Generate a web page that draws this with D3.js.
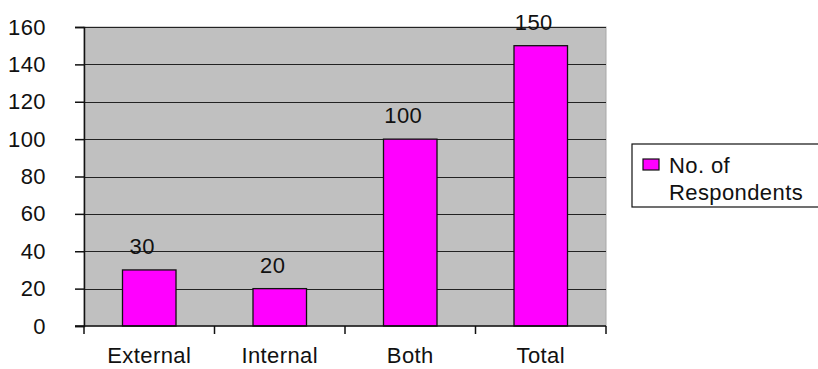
<!DOCTYPE html>
<html>
<head>
<meta charset="utf-8">
<script src="https://cdn.jsdelivr.net/npm/d3@7"></script>
<style>
  body { margin: 0; background: #fff; }
  svg text { font-family: "Liberation Sans", Arial, sans-serif; fill: #111; letter-spacing: 0.4px; }
</style>
</head>
<body>
<div class="chart"></div>
<script>
// data
var categories = ["External", "Internal", "Both", "Total"];
var respondents = [30, 20, 100, 150];
var yTicks = [0, 20, 40, 60, 80, 100, 120, 140, 160];
var seriesName = ["No. of", "Respondents"];

var width = 818, height = 369;
var margin = {top: 27, left: 84, right: 212, bottom: 43};
var fontSize = "22px";

var svg = d3.select(".chart")
    .append("svg")
    .attr("width", width)
    .attr("height", height);

var plotW = width - margin.left - margin.right;
var plotH = height - margin.top - margin.bottom;

var xScale = d3.scaleBand()
    .domain(categories)
    .range([margin.left, margin.left + plotW]);

var yScale = d3.scaleLinear()
    .domain([0, 160])
    .range([margin.top + plotH, margin.top]);

// gray plot area
svg.append("rect")
    .attr("x", margin.left)
    .attr("y", margin.top)
    .attr("width", plotW)
    .attr("height", plotH)
    .style("fill", "#c0c0c0")
    .style("stroke", "#a8a8a8")
    .style("stroke-width", 1);

// horizontal grid lines
svg.append("g")
    .selectAll("line")
    .data(yTicks.slice(1))
    .enter()
    .append("line")
    .attr("x1", margin.left)
    .attr("x2", margin.left + plotW)
    .attr("y1", function(d) { return Math.round(yScale(d)) + 0.5; })
    .attr("y2", function(d) { return Math.round(yScale(d)) + 0.5; })
    .style("stroke", "#222")
    .style("stroke-width", 1.2);

// bars
var barW = xScale.bandwidth() * 0.41;
svg.append("g")
    .selectAll("rect")
    .data(respondents)
    .enter()
    .append("rect")
    .attr("x", function(d, i) { return xScale(categories[i]) + xScale.bandwidth() / 2 - barW / 2; })
    .attr("y", function(d) { return yScale(d); })
    .attr("width", barW)
    .attr("height", function(d) { return yScale(0) - yScale(d); })
    .style("fill", "#ff00ff")
    .style("stroke", "#111")
    .style("stroke-width", 1.3);

// value labels
svg.append("g")
    .selectAll("text")
    .data(respondents)
    .enter()
    .append("text")
    .attr("x", function(d, i) { return xScale(categories[i]) + xScale.bandwidth() / 2 - 7; })
    .attr("y", function(d) { return yScale(d) - 16; })
    .attr("text-anchor", "middle")
    .style("font-size", fontSize)
    .text(function(d) { return d; });

// y axis
var yAxis = svg.append("g")
    .attr("transform", "translate(" + margin.left + ",0)")
    .call(d3.axisLeft(yScale).tickValues(yTicks).tickSize(9).tickPadding(29));
yAxis.select(".domain").style("stroke", "#111").style("stroke-width", 1.5);
yAxis.selectAll(".tick line").style("stroke", "#111").style("stroke-width", 1.5);
yAxis.selectAll(".tick text")
    .style("font-size", fontSize)
    .style("font-family", "'Liberation Sans', Arial, sans-serif")
    .style("fill", "#111");

// x axis: ticks sit on the category boundaries
var xAxis = svg.append("g")
    .attr("transform", "translate(0," + (margin.top + plotH) + ")");
xAxis.append("line")
    .attr("x1", margin.left - 9)
    .attr("x2", margin.left + plotW)
    .style("stroke", "#111")
    .style("stroke-width", 1.5);
var bounds = categories.map(function(c) { return xScale(c); }).concat([margin.left + plotW]);
xAxis.selectAll(".bound")
    .data(bounds)
    .enter()
    .append("line")
    .attr("class", "bound")
    .attr("x1", function(d) { return d; })
    .attr("x2", function(d) { return d; })
    .attr("y1", 0)
    .attr("y2", 8)
    .style("stroke", "#111")
    .style("stroke-width", 1.5);
xAxis.selectAll(".cat")
    .data(categories)
    .enter()
    .append("text")
    .attr("class", "cat")
    .attr("x", function(d) { return xScale(d) + xScale.bandwidth() / 2; })
    .attr("y", 37)
    .attr("text-anchor", "middle")
    .style("font-size", fontSize)
    .text(function(d) { return d; });

// legend
var legend = svg.append("g");
legend.append("rect")
    .attr("x", 632)
    .attr("y", 144)
    .attr("width", 200)
    .attr("height", 63)
    .style("fill", "#fff")
    .style("stroke", "#111")
    .style("stroke-width", 1.2);
legend.append("rect")
    .attr("x", 643)
    .attr("y", 159)
    .attr("width", 16)
    .attr("height", 11)
    .style("fill", "#ff00ff")
    .style("stroke", "#111")
    .style("stroke-width", 1.2);
legend.selectAll(".lg")
    .data(seriesName)
    .enter()
    .append("text")
    .attr("class", "lg")
    .attr("x", 669)
    .attr("y", function(d, i) { return 173 + i * 27; })
    .style("font-size", fontSize)
    .text(function(d) { return d; });
</script>
</body>
</html>
